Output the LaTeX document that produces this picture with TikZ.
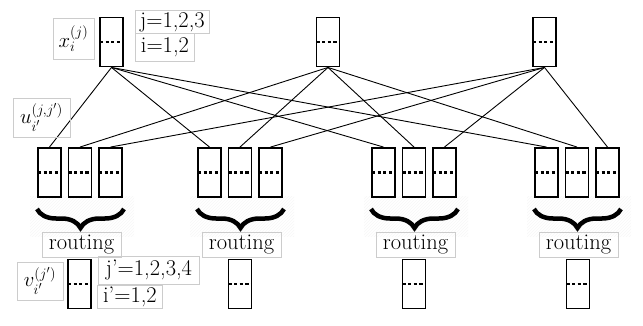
\documentclass[tikz,border=0pt]{standalone}
\usetikzlibrary{decorations.pathreplacing,patterns}
\begin{document}
\begin{tikzpicture}[x=1pt,y=-1pt,
  every node/.style={font=\fontsize{22.5}{27}\selectfont},
  cell/.style={draw, line width=1.9pt, minimum width=23pt, minimum height=49pt, inner sep=0pt,
    path picture={\draw[line width=2.2pt, dash pattern=on 3.2pt off 2.4pt]
      (path picture bounding box.west) -- (path picture bounding box.east);}},
  lbl/.style={draw=gray!40, line width=0.9pt, inner sep=0pt},
  conn/.style={line width=0.9pt},
  routebrace/.style={decorate, decoration={brace, mirror, amplitude=19pt}, line width=4.5pt},
  hatch/.style={pattern=north east lines, pattern color=gray!7, draw=none}]
\useasboundingbox (0,0) rectangle (643,326);

% hatched backgrounds behind braces
\foreach \c in {80,240,414,577}{
  \fill[hatch] (\c-50,197) rectangle (\c+54,236);
}

% top cells
\node[cell] (t1) at (111.5,42) {};
\node[cell] (t2) at (328,42) {};
\node[cell] (t3) at (544.5,42) {};

% middle cells
\foreach \g/\c in {1/80,2/240,3/414,4/577}{
  \node[cell] (m\g1) at (\c-30.5,172.5) {};
  \node[cell] (m\g2) at (\c,172.5) {};
  \node[cell] (m\g3) at (\c+30.5,172.5) {};
}

% connectors
\foreach \j in {1,2,3}{
  \foreach \g in {1,2,3,4}{
    \draw[conn] (t\j.south) -- (m\g\j.north);
  }
}

% braces and routing labels
\foreach \g/\c in {1/80,2/240,3/414,4/577}{
  \coordinate (bl\g) at (\c-43,209);
  \coordinate (br\g) at (\c+44,209);
  \draw[routebrace] (bl\g) -- (br\g);
  \node[lbl, minimum width=79pt, minimum height=25pt] (r\g) at (\c+1.5,244.5) {routing};
}

% bottom cells
\node[cell] (b1) at (79.5,284) {};
\node[cell] (b2) at (240,284) {};
\node[cell] (b3) at (414,284) {};
\node[cell] (b4) at (578,284) {};

% labels
\node[lbl, minimum width=41pt, minimum height=41pt] (lx) at (73.5,38.5) {$x_i^{(j)}$};
\node[lbl, minimum width=74pt, minimum height=23pt, anchor=north west] (lj) at (135,10) {j=1,2,3};
\node[lbl, minimum width=59pt, minimum height=28pt, anchor=north west] (li) at (135,33) {i=1,2};
\node[lbl, minimum width=57pt, minimum height=39pt] (lu) at (41.5,117.5) {$u^{\raise1pt\hbox{$\scriptstyle(j,j')$}}_{\lower3pt\hbox{$\scriptstyle i'$}}$};
\node[lbl, minimum width=46pt, minimum height=38pt] (lv) at (40,281) {$v^{\raise1pt\hbox{$\scriptstyle(j')$}}_{\lower3pt\hbox{$\scriptstyle i'$}}$};
\node[lbl, minimum width=101pt, minimum height=28pt, anchor=north west] (ljp) at (98,256) {j'=1,2,3,4};
\node[lbl, minimum width=65pt, minimum height=23pt, anchor=north west] (lip) at (97,285) {i'=1,2};
\end{tikzpicture}
\end{document}
